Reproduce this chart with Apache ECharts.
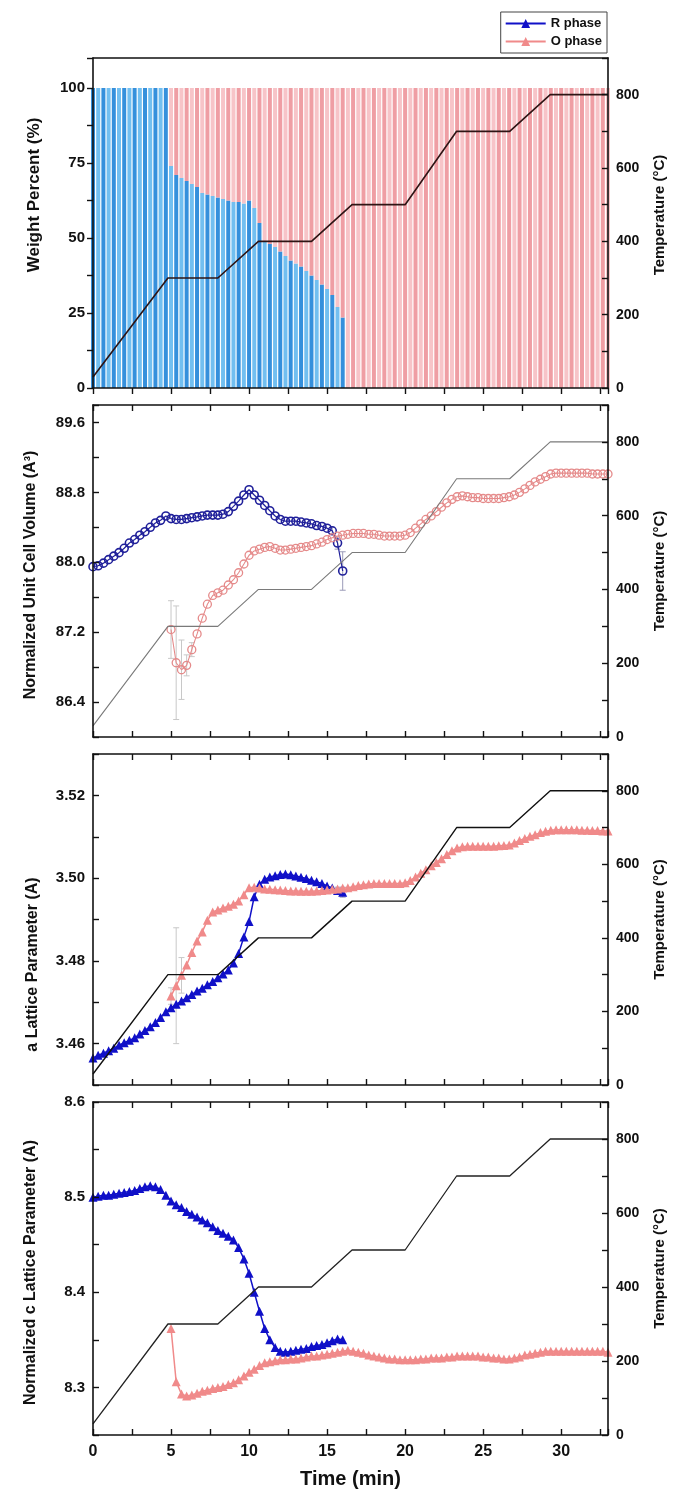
<!DOCTYPE html>
<html><head><meta charset="utf-8">
<script src="https://cdn.jsdelivr.net/npm/echarts@6/dist/echarts.min.js"></script>
<style>html,body{margin:0;padding:0;background:#fff}#c{width:675px;height:1502px}</style>
</head><body><div id="c"></div>
<script>
// ---------------- DATA ----------------
const scanTimes = [0,0.33,0.67,1,1.33,1.67,2,2.33,2.67,3,3.33,3.67,4,4.33,4.67,5,5.33,5.67,6,6.33,6.67,7,7.33,7.67,8,8.33,8.67,9,9.33,9.67,10,10.33,10.67,11,11.33,11.67,12,12.33,12.67,13,13.33,13.67,14,14.33,14.67,15,15.33,15.67,16,16.33,16.67,17,17.33,17.67,18,18.33,18.67,19,19.33,19.67,20,20.33,20.67,21,21.33,21.67,22,22.33,22.67,23,23.33,23.67,24,24.33,24.67,25,25.33,25.67,26,26.33,26.67,27,27.33,27.67,28,28.33,28.67,29,29.33,29.67,30,30.33,30.67,31,31.33,31.67,32,32.33,32.67,33];
const O_FIRST_SCAN = 15; // O phase appears from this scan (t = 5 min)

const tempTimes  = [0, 4.8, 8.0, 10.6, 14.0, 16.6, 20.0, 23.3, 26.7, 29.3, 33];
const tempValues = [30, 300, 300, 400, 400, 500, 500, 700, 700, 800, 800];

const rWeight = [100,100,100,100,100,100,100,100,100,100,100,100,100,100,100,
 74,71,70,69,68,67,65,64.5,64,63.5,63,62.5,62,62,61.5,62.5,60,55,49,48,47,45.5,44,42.5,41.5,40.5,39,37.5,36,34.5,33,31,27,23.5,
 0,0,0,0,0,0,0,0,0,0,0,0,0,0,0,0,0,0,0,0,0,0,0,0,0,0,0,0,0,0,0,0,0,0,0,0,0,0,0,0,0,0,0,0,0,0,0,0,0,0,0];
const oWeight = [0,0,0,0,0,0,0,0,0,0,0,0,0,0,0,
 26,29,30,31,32,33,35,35.5,36,36.5,37,37.5,38,38,38.5,37.5,40,45,51,52,53,54.5,56,57.5,58.5,59.5,61,62.5,64,65.5,67,69,73,76.5,
 100,100,100,100,100,100,100,100,100,100,100,100,100,100,100,100,100,100,100,100,100,100,100,100,100,100,100,100,100,100,100,100,100,100,100,100,100,100,100,100,100,100,100,100,100,100,100,100,100,100,100];

const rVolume = [87.95,87.96,87.99,88.03,88.07,88.11,88.16,88.22,88.26,88.31,
 88.35,88.40,88.45,88.48,88.53,88.50,88.49,88.49,88.50,88.51,
 88.52,88.53,88.54,88.54,88.54,88.55,88.58,88.64,88.70,88.77,
 88.83,88.77,88.71,88.65,88.59,88.53,88.49,88.47,88.47,88.47,
 88.46,88.45,88.44,88.42,88.41,88.39,88.36,88.22,87.90];
const oVolume = [87.23,86.85,86.77,86.82,87.00,87.18,87.36,87.52,87.62,87.65,
 87.68,87.74,87.80,87.88,87.98,88.08,88.13,88.15,88.17,88.18,
 88.16,88.14,88.14,88.15,88.16,88.17,88.18,88.19,88.21,88.23,
 88.26,88.28,88.30,88.31,88.32,88.33,88.33,88.33,88.32,88.32,
 88.31,88.30,88.30,88.30,88.30,88.31,88.34,88.39,88.44,88.49,
 88.53,88.58,88.63,88.68,88.72,88.75,88.76,88.75,88.74,88.74,
 88.73,88.73,88.73,88.73,88.74,88.75,88.77,88.80,88.84,88.88,
 88.92,88.95,88.98,89.01,89.02,89.02,89.02,89.02,89.02,89.02,
 89.02,89.01,89.01,89.01,89.01];

const rA = [3.4565,3.4572,3.4577,3.4583,3.4589,3.4596,3.4602,3.4608,3.4614,3.4623,
 3.4632,3.4641,3.4651,3.4663,3.4677,3.4687,3.4695,3.4703,3.4711,3.4719,
 3.4727,3.4734,3.4742,3.4750,3.4759,3.4768,3.4778,3.4795,3.4818,3.4858,
 3.4895,3.4955,3.4985,3.4997,3.5003,3.5006,3.5009,3.5010,3.5008,3.5005,
 3.5002,3.4999,3.4995,3.4991,3.4987,3.4981,3.4976,3.4970,3.4966];
const oA = [3.4715,3.4740,3.4765,3.4790,3.4820,3.4848,3.4870,3.4898,3.4918,3.4923,
 3.4928,3.4932,3.4937,3.4945,3.4960,3.4977,3.4978,3.4976,3.4974,3.4973,
 3.4972,3.4971,3.4970,3.4969,3.4969,3.4968,3.4968,3.4968,3.4969,3.4970,
 3.4971,3.4973,3.4974,3.4976,3.4977,3.4979,3.4982,3.4984,3.4986,3.4987,
 3.4987,3.4987,3.4987,3.4987,3.4987,3.4989,3.4994,3.5003,3.5012,3.5020,
 3.5030,3.5038,3.5047,3.5057,3.5066,3.5073,3.5076,3.5077,3.5077,3.5077,
 3.5077,3.5077,3.5077,3.5078,3.5079,3.5080,3.5085,3.5091,3.5096,3.5101,
 3.5105,3.5110,3.5113,3.5116,3.5117,3.5117,3.5117,3.5117,3.5117,3.5116,
 3.5116,3.5115,3.5115,3.5114,3.5114];

const rC = [8.500,8.501,8.502,8.502,8.503,8.504,8.505,8.506,8.507,8.509,
 8.511,8.512,8.511,8.508,8.502,8.496,8.492,8.489,8.485,8.482,
 8.479,8.476,8.473,8.469,8.465,8.462,8.459,8.455,8.447,8.435,
 8.420,8.400,8.380,8.362,8.350,8.342,8.338,8.337,8.338,8.339,
 8.340,8.341,8.343,8.344,8.345,8.347,8.349,8.351,8.350];
const oC = [8.362,8.306,8.293,8.291,8.292,8.294,8.296,8.297,8.299,8.300,
 8.301,8.303,8.305,8.308,8.312,8.316,8.319,8.323,8.326,8.327,
 8.328,8.329,8.329,8.330,8.330,8.331,8.332,8.333,8.333,8.334,
 8.335,8.336,8.337,8.338,8.339,8.338,8.337,8.336,8.334,8.333,
 8.332,8.331,8.330,8.330,8.329,8.329,8.329,8.329,8.330,8.330,
 8.331,8.331,8.331,8.332,8.332,8.333,8.333,8.333,8.333,8.333,
 8.332,8.332,8.331,8.331,8.330,8.330,8.331,8.332,8.334,8.335,
 8.336,8.337,8.338,8.338,8.338,8.338,8.338,8.338,8.338,8.338,
 8.338,8.338,8.338,8.338,8.337];

// error bars: scan index + half-width
const errVolRScan = [46, 47, 48];       const errVolR = [0.04, 0.07, 0.22];
const errVolOScan = [15, 16, 17, 18, 19]; const errVolO = [0.33, 0.65, 0.34, 0.12, 0.08];
const errARScan = [47, 48];             const errAR = [0.0008, 0.0012];
const errAOScan = [15, 16, 17];         const errAO = [0.0020, 0.0140, 0.0043];

// ---------------- CHART ----------------
const FONT = '"Liberation Sans", Arial, Helvetica, sans-serif';
const INK = '#111';
const chart = echarts.init(document.getElementById('c'), null, {renderer: 'canvas'});

const oTimes = scanTimes.slice(O_FIRST_SCAN);
const pairs = (times, vals) => vals.map((v, i) => [times[i], v]);
function errPairs(vals, scanIdx, errs, offset) {
  return scanIdx.map((k, j) => [scanTimes[k], vals[k - offset], errs[j]]);
}

const gridBoxes = [
  {left: 93, right: 67, top: 58, height: 330},
  {left: 93, right: 67, top: 405, height: 332},
  {left: 93, right: 67, top: 754, height: 331},
  {left: 93, right: 67, top: 1102, height: 333}
];

const axisLineStyle = {color: INK, width: 1.6};
const tickStyle = {color: INK, width: 1.4};

const xAxes = [];
for (let g = 0; g < 4; g++) {
  xAxes.push({
    type: 'value', gridIndex: g, min: 0, max: 33, interval: 2.5, position: 'bottom',
    axisLine: {show: true, onZero: false, lineStyle: axisLineStyle},
    axisTick: {show: true, inside: g > 0, length: 6, lineStyle: tickStyle},
    axisLabel: {show: g === 3, margin: 9, color: INK, fontFamily: FONT, fontWeight: 'bold', fontSize: 16,
      formatter: v => (Math.abs(v % 5) < 1e-6 && v <= 30) ? String(v) : ''},
    splitLine: {show: false}, z: 6,
    name: g === 3 ? 'Time (min)' : '', nameLocation: 'middle', nameGap: 34,
    nameTextStyle: {color: INK, fontFamily: FONT, fontWeight: 'bold', fontSize: 20}
  });
}
for (let g = 0; g < 4; g++) {
  xAxes.push({
    type: 'value', gridIndex: g, min: 0, max: 33, interval: 2.5, position: 'top',
    axisLine: {show: true, onZero: false, lineStyle: axisLineStyle},
    axisTick: {show: g > 0, inside: true, length: 6, lineStyle: tickStyle},
    axisLabel: {show: false}, splitLine: {show: false}, z: 6
  });
}
// index 8: scan-number axis for the stacked weight bars (first scan at t=0, last at t=33)
xAxes.push({
  type: 'category', gridIndex: 0, data: scanTimes, boundaryGap: false, show: false
});

function leftAxis(g, cfg) {
  return {
    type: 'value', gridIndex: g, position: 'left', min: cfg.min, max: cfg.max, interval: cfg.interval,
    axisLine: {show: true, onZero: false, lineStyle: axisLineStyle},
    axisTick: {show: true, inside: g > 0, length: 6, lineStyle: tickStyle},
    axisLabel: {margin: 8, color: INK, fontFamily: FONT, fontWeight: 'bold', fontSize: 15, formatter: cfg.fmt},
    splitLine: {show: false}, z: 6,
    name: cfg.name, nameLocation: 'middle', nameRotate: 90, nameGap: cfg.gap,
    nameTextStyle: {color: INK, fontFamily: FONT, fontWeight: 'bold', fontSize: cfg.fs, padding: cfg.pad}
  };
}
const yAxes = [
  leftAxis(0, {min: 0, max: 110, interval: 12.5, name: 'Weight Percent (%)', gap: 50, fs: 17, pad: [0, 0, 0, 56],
    fmt: v => (v % 25 === 0 && v <= 100) ? String(v) : ''}),
  leftAxis(1, {min: 86.0, max: 89.8, interval: 0.4, name: 'Normalized Unit Cell Volume (A³)', gap: 54, fs: 16, pad: [0, 8, 0, 0],
    fmt: v => { const k = Math.round((v - 86.4) / 0.4); return (k >= 0 && k % 2 === 0 && v < 89.7) ? v.toFixed(1) : ''; }}),
  leftAxis(2, {min: 3.45, max: 3.53, interval: 0.01, name: 'a Lattice Parameter (A)', gap: 52, fs: 16, pad: [0, 90, 0, 0],
    fmt: v => { const k = Math.round((v - 3.46) / 0.01); return (k >= 0 && k % 2 === 0 && v < 3.525) ? v.toFixed(2) : ''; }}),
  leftAxis(3, {min: 8.25, max: 8.6, interval: 0.05, name: 'Normalized c Lattice Parameter (A)', gap: 54, fs: 16, pad: [0, 8, 0, 0],
    fmt: v => { const k = Math.round((v - 8.3) / 0.05); return (k >= 0 && k % 2 === 0) ? v.toFixed(1) : ''; }})
];
for (let g = 0; g < 4; g++) {
  yAxes.push({
    type: 'value', gridIndex: g, position: 'right', min: 0, max: 900, interval: 100,
    axisLine: {show: true, onZero: false, lineStyle: axisLineStyle},
    axisTick: {show: true, inside: true, length: 6, lineStyle: tickStyle},
    axisLabel: {margin: 8, color: INK, fontFamily: FONT, fontWeight: 'bold', fontSize: 14,
      formatter: v => (v % 200 === 0 && v <= 800) ? String(v) : ''},
    splitLine: {show: false}, z: 6,
    name: 'Temperature (°C)', nameLocation: 'middle', nameRotate: 90, nameGap: 44,
    nameTextStyle: {color: INK, fontFamily: FONT, fontWeight: 'bold', fontSize: 15, padding: g === 0 ? [0, 0, 0, 16] : [0, 0, 0, 0]}
  });
}

const tempStyles = [
  {color: '#2e1414', width: 1.6},
  {color: '#7a7a7a', width: 1.1},
  {color: '#111', width: 1.4},
  {color: '#222', width: 1.3}
];

function errSeries(g, data, color) {
  return {
    type: 'custom', xAxisIndex: g, yAxisIndex: g, z: 1, silent: true, data: data,
    renderItem: (params, api) => {
      const x = api.value(0), y = api.value(1), e = api.value(2);
      const p1 = api.coord([x, y + e]), p2 = api.coord([x, y - e]);
      const st = {stroke: color, lineWidth: 1};
      return {type: 'group', children: [
        {type: 'line', shape: {x1: p1[0], y1: p1[1], x2: p2[0], y2: p2[1]}, style: st},
        {type: 'line', shape: {x1: p1[0] - 3, y1: p1[1], x2: p1[0] + 3, y2: p1[1]}, style: st},
        {type: 'line', shape: {x1: p2[0] - 3, y1: p2[1], x2: p2[0] + 3, y2: p2[1]}, style: st}
      ]};
    }
  };
}

const BLUE = '#1010c8', PINK = '#f08a8a', NAVY = '#20209a', ROSE = '#e58a8a';

const series = [
  // legend reference series (panel 3 triangles)
  {name: 'R phase', type: 'line', xAxisIndex: 2, yAxisIndex: 2, z: 3, data: pairs(scanTimes, rA),
   symbol: 'triangle', symbolSize: 9, itemStyle: {color: BLUE}, lineStyle: {color: BLUE, width: 1.5}},
  {name: 'O phase', type: 'line', xAxisIndex: 2, yAxisIndex: 2, z: 4, data: pairs(oTimes, oA),
   symbol: 'triangle', symbolSize: 9, itemStyle: {color: PINK}, lineStyle: {color: PINK, width: 1.5}},
  // panel 1: stacked weight percent bars
  {name: 'R wt', type: 'bar', xAxisIndex: 8, yAxisIndex: 0, stack: 'wt', barWidth: 4, z: 2, clip: true,
   data: rWeight,
   itemStyle: {color: p => (p.dataIndex % 2 ? '#72bff0' : '#3590dc')}},
  {name: 'O wt', type: 'bar', xAxisIndex: 8, yAxisIndex: 0, stack: 'wt', barWidth: 4, z: 2, clip: true,
   data: oWeight,
   itemStyle: {color: p => (p.dataIndex % 2 ? '#f7c4c8' : '#ef9ea4')}},
  // panel 2: volume
  errSeries(1, errPairs(rVolume, errVolRScan, errVolR, 0), '#9a9ab8'),
  errSeries(1, errPairs(oVolume, errVolOScan, errVolO, O_FIRST_SCAN), '#c8c8c8'),
  {name: 'R vol', type: 'line', xAxisIndex: 1, yAxisIndex: 1, z: 3, data: pairs(scanTimes, rVolume),
   symbol: 'circle', symbolSize: 8, itemStyle: {color: 'rgba(255,255,255,0)', borderColor: NAVY, borderWidth: 1.6},
   lineStyle: {color: NAVY, width: 1.2}},
  {name: 'O vol', type: 'line', xAxisIndex: 1, yAxisIndex: 1, z: 3, data: pairs(oTimes, oVolume),
   symbol: 'circle', symbolSize: 8, itemStyle: {color: 'rgba(255,255,255,0)', borderColor: ROSE, borderWidth: 1.3},
   lineStyle: {color: ROSE, width: 1.1}},
  // panel 3 error bars
  errSeries(2, errPairs(rA, errARScan, errAR, 0), '#9a9ab8'),
  errSeries(2, errPairs(oA, errAOScan, errAO, O_FIRST_SCAN), '#c8c8c8'),
  // panel 4: c parameter
  {name: 'R c', type: 'line', xAxisIndex: 3, yAxisIndex: 3, z: 3, data: pairs(scanTimes, rC),
   symbol: 'triangle', symbolSize: 9, itemStyle: {color: BLUE}, lineStyle: {color: BLUE, width: 1.5}},
  {name: 'O c', type: 'line', xAxisIndex: 3, yAxisIndex: 3, z: 3, data: pairs(oTimes, oC),
   symbol: 'triangle', symbolSize: 9, itemStyle: {color: PINK}, lineStyle: {color: PINK, width: 1.5}}
];
for (let g = 0; g < 4; g++) {
  series.push({
    name: 'Temperature ' + (g + 1), type: 'line', xAxisIndex: g, yAxisIndex: 4 + g, z: 5,
    data: pairs(tempTimes, tempValues), symbol: 'none', lineStyle: tempStyles[g]
  });
}

chart.setOption({
  animation: false,
  backgroundColor: '#fff',
  grid: gridBoxes,
  xAxis: xAxes,
  yAxis: yAxes,
  legend: {
    data: ['R phase', 'O phase'], orient: 'vertical', right: 68, top: 12,
    backgroundColor: '#fff', borderColor: '#444', borderWidth: 1, borderRadius: 0,
    padding: [5, 5, 5, 4], itemGap: 5, itemWidth: 40, itemHeight: 11,
    textStyle: {color: INK, fontFamily: FONT, fontWeight: 'bold', fontSize: 13}
  },
  series: series
});
</script></body></html>
